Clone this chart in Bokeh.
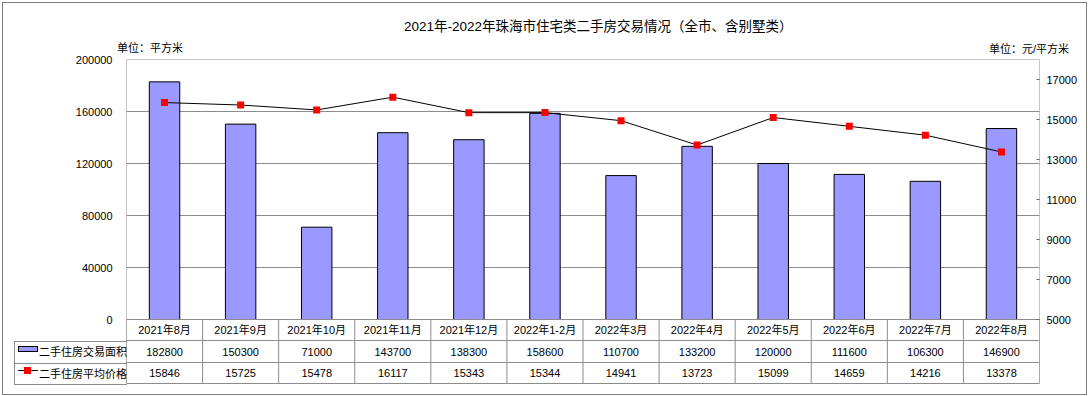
from bokeh.plotting import figure
from bokeh.models import (Range1d, LinearAxis, FixedTicker, ColumnDataSource,
                          FactorRange, BasicTickFormatter, Div)
from bokeh.layouts import column
from bokeh.core.properties import value
from bokeh.embed import file_html
from bokeh.resources import INLINE
import numpy as np

# ---------------- data ----------------
months = ["2021年8月", "2021年9月", "2021年10月", "2021年11月", "2021年12月", "2022年1-2月",
          "2022年3月", "2022年4月", "2022年5月", "2022年6月", "2022年7月", "2022年8月"]
area = [182800, 150300, 71000, 143700, 138300, 158600, 110700, 133200, 120000, 111600, 106300, 146900]
price = [15846, 15725, 15478, 16117, 15343, 15344, 14941, 13723, 15099, 14659, 14216, 13378]
area_ticks = [0, 40000, 80000, 120000, 160000, 200000]
price_ticks = [5000, 7000, 9000, 11000, 13000, 15000, 17000]
area_max = 200000
price_min, price_max = 5000, 18000
title_text = "2021年-2022年珠海市住宅类二手房交易情况（全市、含别墅类）"
left_unit = "单位：平方米"
right_unit = "单位：元/平方米"
series_area = "二手住房交易面积"
series_price = "二手住房平均价格"

# ---------------- styles / layout (pixels) ----------------
FONT = "'Liberation Sans', 'Noto Sans CJK SC'"
BAR_FILL = "#9999FF"
GRID = "#8c8c8c"
W, H = 1083, 391
LEFT, RIGHT, TOP = 123, 47, 56
FRAME_W = W - LEFT - RIGHT          # 913
CHART_H = 260
BELOW_H = H - TOP - CHART_H
n = len(months)
kL = area_max / CHART_H
kR = (price_max - price_min) / CHART_H


def ty(px):
    """pixels below the chart's zero line -> left-axis data units"""
    return -px * kL


p = figure(width=W, height=H, x_range=FactorRange(*months),
           y_range=Range1d(ty(BELOW_H), area_max), x_axis_location=None,
           output_backend="svg", toolbar_location=None,
           min_border_left=LEFT, min_border_right=RIGHT, min_border_top=TOP,
           min_border_bottom=0)
p.extra_y_ranges = {"price": Range1d(price_min - BELOW_H * kR, price_max)}
p.outline_line_color = None
p.xgrid.visible = False
p.ygrid.ticker = FixedTicker(ticks=area_ticks)
p.ygrid.grid_line_color = GRID

ya = p.yaxis[0]
ya.ticker = FixedTicker(ticks=area_ticks)
ya.formatter = BasicTickFormatter(use_scientific=False)
ya.axis_line_color = None
ya.major_tick_line_color = None
ya.minor_tick_line_color = None
ya.major_label_standoff = 8
ya.major_label_text_font = FONT
ya.major_label_text_font_size = "11px"
ya.major_label_text_color = "#000000"

ra = LinearAxis(y_range_name="price", ticker=FixedTicker(ticks=price_ticks))
ra.axis_line_color = None
ra.major_tick_in = 3
ra.major_tick_out = 0
ra.major_tick_line_color = "#666666"
ra.minor_tick_line_color = None
ra.major_label_standoff = 7
ra.major_label_text_font = FONT
ra.major_label_text_font_size = "11px"
ra.major_label_text_color = "#000000"
p.add_layout(ra, "right")

# chart box (top, left, right)
p.segment(x0=[0, 0, n], y0=[area_max] * 3, x1=[n, 0, n], y1=[area_max, ty(64), ty(64)],
          line_color=GRID, line_width=1)

src = ColumnDataSource(dict(m=months, a=area, pr=price))
p.vbar(x="m", top="a", width=0.4, source=src, fill_color=BAR_FILL,
       line_color="#000000", line_width=1)
p.line(x="m", y="pr", source=src, y_range_name="price", line_color="#000000", line_width=1)
p.scatter(x="m", y="pr", source=src, y_range_name="price", marker="square", size=7,
          fill_color="#FF0000", line_color=None)

# ---------------- table (inside same frame, below zero) ----------------
r0, r1, r2, r3 = 0, 21, 43, 64
p.segment(x0=[0] * 4, y0=[ty(r) for r in (r0, r1, r2, r3)], x1=[n] * 4,
          y1=[ty(r) for r in (r0, r1, r2, r3)], line_color=GRID, line_width=1)
vx = list(range(n + 1))
p.segment(x0=vx, y0=[ty(r0)] * len(vx), x1=vx, y1=[ty(r3)] * len(vx), line_color=GRID, line_width=1)

xc = np.arange(n) + 0.5
tsrc = ColumnDataSource(dict(x=xc, m=months, a=[str(v) for v in area], pr=[str(v) for v in price]))
for col, yy in (("m", (r0 + r1) / 2), ("a", (r1 + r2) / 2), ("pr", (r2 + r3) / 2)):
    p.text(x="x", y=ty(yy), text=col, source=tsrc, text_align="center", text_baseline="middle",
           text_font=value(FONT), text_font_size="11px", text_color="#000000")

# ---------------- title, units and legend column outside the frame (HTML overlay) ----------------
OX, OY = 7, 7   # overlay origin in page pixels


def box(left, top, width, height, extra):
    return ('<div style="position:absolute;left:%dpx;top:%dpx;width:%dpx;height:%dpx;%s"></div>'
            % (left - OX, top - OY, width, height, extra))


def txt(left, top, height, text, size="11px"):
    return ('<div style="position:absolute;left:%dpx;top:%dpx;height:%dpx;line-height:%dpx;white-space:nowrap;'
            'font-family:%s;font-size:%s;color:#000;">%s</div>' % (left - OX, top - OY, height, height, FONT, size, text))


parts = [
    txt(403, 17, 18, title_text, "13.5px"),
    txt(116, 40, 14, left_unit),
    '<div style="position:absolute;left:%dpx;top:%dpx;width:%dpx;height:14px;line-height:14px;text-align:right;'
    'white-space:nowrap;font-family:%s;font-size:11px;color:#000;">%s</div>' % (868 - OX, 41 - OY, 200, FONT, right_unit),
    # legend column borders
    box(13, 340, 113, 1, "background:%s;" % GRID),
    box(13, 362, 113, 1, "background:%s;" % GRID),
    box(13, 383, 113, 1, "background:%s;" % GRID),
    box(13, 340, 1, 44, "background:%s;" % GRID),
    # keys
    box(17, 345, 20, 6, "background:%s;border:1px solid #000;box-sizing:border-box;" % BAR_FILL),
    box(17, 369, 20, 1, "background:#000;"),
    box(23, 366, 7, 7, "background:#FF0000;"),
    txt(38, 341, 21, series_area),
    txt(38, 363, 20, series_price),
]
overlay = Div(text="".join(parts), width=1, height=1,
              styles={"position": "absolute", "left": "0px", "top": "0px", "z-index": "10",
                      "overflow": "visible", "pointer-events": "none"})

layout = column(p, overlay, styles={"border": "1px solid #808080", "margin-left": "2px",
                                    "margin-top": "2px", "position": "relative"})
open("out.html", "w").write(file_html(layout, INLINE))
